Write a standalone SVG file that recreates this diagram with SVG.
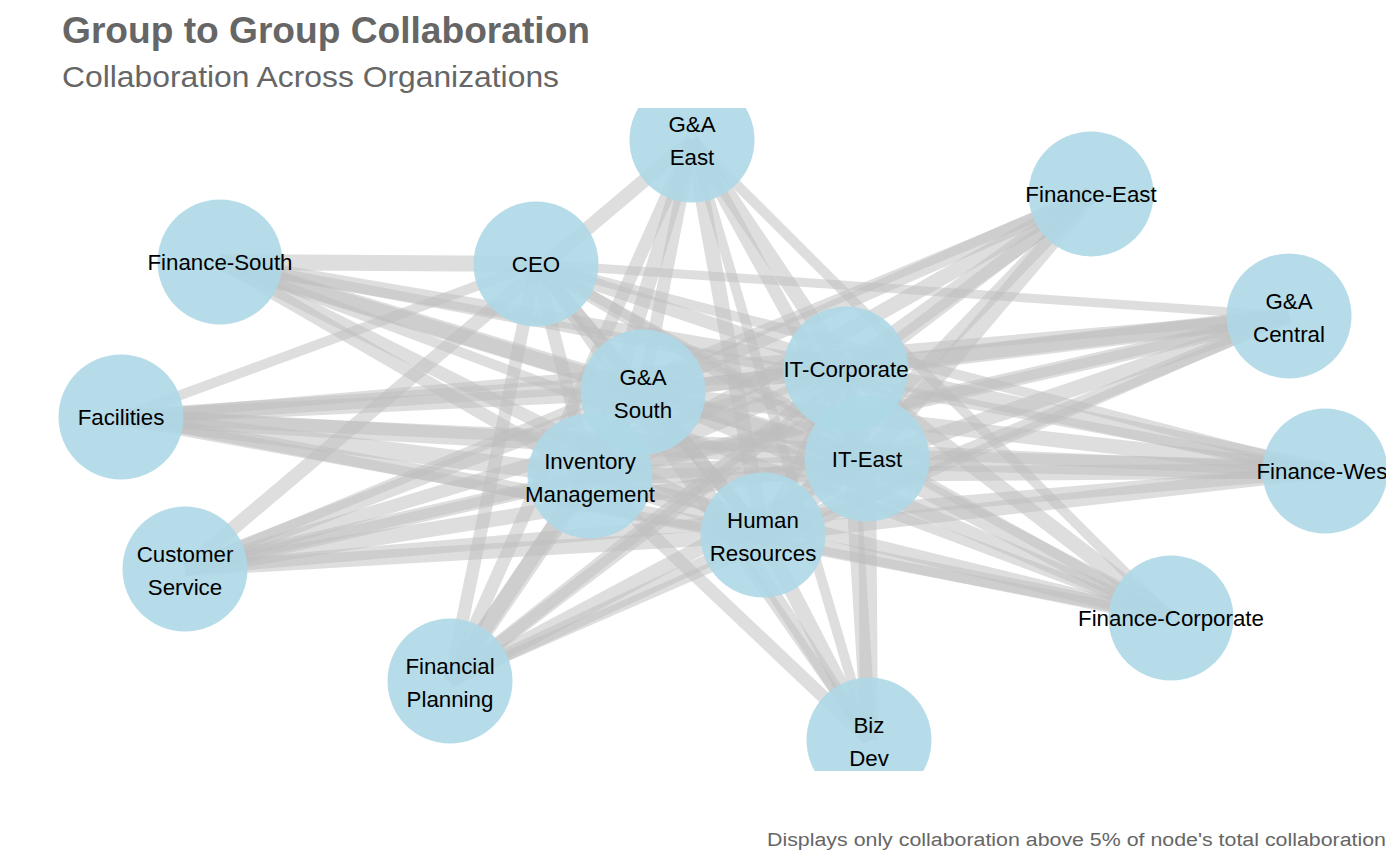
<svg xmlns="http://www.w3.org/2000/svg" width="1400" height="866" viewBox="0 0 1400 866">
<style>
.edges line{stroke:#bebebe;stroke-opacity:0.5;stroke-linecap:butt}
.node circle{fill:#add8e6;fill-opacity:0.9}
.node text{font-family:"Liberation Sans",Arial,sans-serif;font-size:22.3px;fill:#000;text-anchor:middle}
.title{font-family:"Liberation Sans",Arial,sans-serif;font-weight:bold;font-size:37px;fill:#666666}
.subtitle{font-family:"Liberation Sans",Arial,sans-serif;font-size:30px;fill:#666666}
.caption{font-family:"Liberation Sans",Arial,sans-serif;font-size:18px;fill:#666666}
</style>
<defs><clipPath id="panel"><rect x="0" y="108" width="1386" height="663"/></clipPath></defs>
<rect width="1400" height="866" fill="#ffffff"/>
<text class="title" x="62" y="43" textLength="528" lengthAdjust="spacingAndGlyphs">Group to Group Collaboration</text>
<text class="subtitle" x="62" y="87" textLength="497" lengthAdjust="spacingAndGlyphs">Collaboration Across Organizations</text>
<text class="caption" x="767" y="846" textLength="619" lengthAdjust="spacingAndGlyphs">Displays only collaboration above 5% of node's total collaboration</text>
<g clip-path="url(#panel)">
<g id="connectors" class="edges">
<line x1="220" y1="262" x2="536" y2="264" stroke-width="16"/>
<line x1="220" y1="262" x2="643" y2="392" stroke-width="15"/>
<line x1="220" y1="262" x2="590" y2="476" stroke-width="13"/>
<line x1="220" y1="262" x2="846" y2="369" stroke-width="15"/>
<line x1="220" y1="262" x2="867" y2="459" stroke-width="18"/>
<line x1="220" y1="262" x2="763" y2="535" stroke-width="13"/>
<line x1="220" y1="262" x2="1325" y2="471" stroke-width="10"/>
<line x1="220" y1="262" x2="1171" y2="618" stroke-width="10"/>
<line x1="692" y1="140" x2="185" y2="569" stroke-width="14"/>
<line x1="692" y1="140" x2="643" y2="392" stroke-width="13"/>
<line x1="692" y1="140" x2="590" y2="476" stroke-width="15"/>
<line x1="692" y1="140" x2="450" y2="681" stroke-width="13"/>
<line x1="692" y1="140" x2="763" y2="535" stroke-width="15"/>
<line x1="692" y1="140" x2="869" y2="740" stroke-width="10"/>
<line x1="692" y1="140" x2="867" y2="459" stroke-width="13"/>
<line x1="692" y1="140" x2="846" y2="369" stroke-width="15"/>
<line x1="692" y1="140" x2="1171" y2="618" stroke-width="10"/>
<line x1="536" y1="264" x2="1289" y2="316" stroke-width="9"/>
<line x1="536" y1="264" x2="121" y2="417" stroke-width="10"/>
<line x1="536" y1="264" x2="450" y2="681" stroke-width="13"/>
<line x1="536" y1="264" x2="643" y2="392" stroke-width="13"/>
<line x1="536" y1="264" x2="590" y2="476" stroke-width="13"/>
<line x1="536" y1="264" x2="846" y2="369" stroke-width="13"/>
<line x1="536" y1="264" x2="867" y2="459" stroke-width="13"/>
<line x1="536" y1="264" x2="763" y2="535" stroke-width="13"/>
<line x1="536" y1="264" x2="1325" y2="471" stroke-width="10"/>
<line x1="536" y1="264" x2="1171" y2="618" stroke-width="10"/>
<line x1="536" y1="264" x2="869" y2="740" stroke-width="10"/>
<line x1="1091" y1="194" x2="643" y2="392" stroke-width="15"/>
<line x1="1091" y1="194" x2="590" y2="476" stroke-width="15"/>
<line x1="1091" y1="194" x2="846" y2="369" stroke-width="18"/>
<line x1="1091" y1="194" x2="867" y2="459" stroke-width="18"/>
<line x1="1091" y1="194" x2="763" y2="535" stroke-width="13"/>
<line x1="1091" y1="194" x2="450" y2="681" stroke-width="13"/>
<line x1="1091" y1="194" x2="185" y2="569" stroke-width="10"/>
<line x1="1289" y1="316" x2="846" y2="369" stroke-width="18"/>
<line x1="1289" y1="316" x2="867" y2="459" stroke-width="15"/>
<line x1="1289" y1="316" x2="643" y2="392" stroke-width="15"/>
<line x1="1289" y1="316" x2="590" y2="476" stroke-width="15"/>
<line x1="1289" y1="316" x2="763" y2="535" stroke-width="13"/>
<line x1="1289" y1="316" x2="121" y2="417" stroke-width="10"/>
<line x1="1289" y1="316" x2="450" y2="681" stroke-width="10"/>
<line x1="1289" y1="316" x2="185" y2="569" stroke-width="10"/>
<line x1="121" y1="417" x2="643" y2="392" stroke-width="15"/>
<line x1="121" y1="417" x2="590" y2="476" stroke-width="18"/>
<line x1="121" y1="417" x2="846" y2="369" stroke-width="15"/>
<line x1="121" y1="417" x2="867" y2="459" stroke-width="18"/>
<line x1="121" y1="417" x2="763" y2="535" stroke-width="15"/>
<line x1="121" y1="417" x2="1325" y2="471" stroke-width="13"/>
<line x1="121" y1="417" x2="1171" y2="618" stroke-width="10"/>
<line x1="1325" y1="471" x2="846" y2="369" stroke-width="18"/>
<line x1="1325" y1="471" x2="867" y2="459" stroke-width="20"/>
<line x1="1325" y1="471" x2="643" y2="392" stroke-width="15"/>
<line x1="1325" y1="471" x2="590" y2="476" stroke-width="15"/>
<line x1="1325" y1="471" x2="763" y2="535" stroke-width="15"/>
<line x1="1325" y1="471" x2="185" y2="569" stroke-width="13"/>
<line x1="185" y1="569" x2="643" y2="392" stroke-width="15"/>
<line x1="185" y1="569" x2="590" y2="476" stroke-width="15"/>
<line x1="185" y1="569" x2="846" y2="369" stroke-width="13"/>
<line x1="185" y1="569" x2="867" y2="459" stroke-width="15"/>
<line x1="185" y1="569" x2="763" y2="535" stroke-width="15"/>
<line x1="1171" y1="618" x2="867" y2="459" stroke-width="18"/>
<line x1="1171" y1="618" x2="763" y2="535" stroke-width="15"/>
<line x1="1171" y1="618" x2="846" y2="369" stroke-width="15"/>
<line x1="1171" y1="618" x2="643" y2="392" stroke-width="13"/>
<line x1="1171" y1="618" x2="590" y2="476" stroke-width="13"/>
<line x1="450" y1="681" x2="643" y2="392" stroke-width="15"/>
<line x1="450" y1="681" x2="590" y2="476" stroke-width="18"/>
<line x1="450" y1="681" x2="846" y2="369" stroke-width="13"/>
<line x1="450" y1="681" x2="867" y2="459" stroke-width="15"/>
<line x1="450" y1="681" x2="763" y2="535" stroke-width="13"/>
<line x1="869" y1="740" x2="867" y2="459" stroke-width="18"/>
<line x1="869" y1="740" x2="846" y2="369" stroke-width="15"/>
<line x1="869" y1="740" x2="763" y2="535" stroke-width="15"/>
<line x1="869" y1="740" x2="590" y2="476" stroke-width="13"/>
<line x1="869" y1="740" x2="643" y2="392" stroke-width="13"/>
<line x1="643" y1="392" x2="846" y2="369" stroke-width="15"/>
<line x1="643" y1="392" x2="867" y2="459" stroke-width="15"/>
<line x1="643" y1="392" x2="763" y2="535" stroke-width="13"/>
<line x1="643" y1="392" x2="590" y2="476" stroke-width="15"/>
<line x1="590" y1="476" x2="846" y2="369" stroke-width="15"/>
<line x1="590" y1="476" x2="867" y2="459" stroke-width="15"/>
<line x1="590" y1="476" x2="763" y2="535" stroke-width="13"/>
<line x1="846" y1="369" x2="867" y2="459" stroke-width="15"/>
<line x1="846" y1="369" x2="763" y2="535" stroke-width="13"/>
<line x1="867" y1="459" x2="763" y2="535" stroke-width="15"/>
</g>
<g id="nodes">
<g id="node-ga-east" class="node"><circle cx="692" cy="140" r="62.5"/><text x="692" y="132">G&amp;A</text><text x="692" y="165">East</text></g>
<g id="node-finance-east" class="node"><circle cx="1091" cy="194" r="62.5"/><text x="1091" y="202">Finance-East</text></g>
<g id="node-ceo" class="node"><circle cx="536" cy="264" r="62.5"/><text x="536" y="272">CEO</text></g>
<g id="node-finance-south" class="node"><circle cx="220" cy="262" r="62.5"/><text x="220" y="270">Finance-South</text></g>
<g id="node-ga-central" class="node"><circle cx="1289" cy="316" r="62.5"/><text x="1289" y="308.5">G&amp;A</text><text x="1289" y="341.5">Central</text></g>
<g id="node-it-corporate" class="node"><circle cx="846" cy="369" r="62.5"/><text x="846" y="377">IT-Corporate</text></g>
<g id="node-ga-south" class="node"><circle cx="643" cy="392" r="62.5"/><text x="643" y="385">G&amp;A</text><text x="643" y="418">South</text></g>
<g id="node-facilities" class="node"><circle cx="121" cy="417" r="62.5"/><text x="121" y="425">Facilities</text></g>
<g id="node-it-east" class="node"><circle cx="867" cy="459" r="62.5"/><text x="867" y="467">IT-East</text></g>
<g id="node-inventory-management" class="node"><circle cx="590" cy="476" r="62.5"/><text x="590" y="468.5">Inventory</text><text x="590" y="501.5">Management</text></g>
<g id="node-finance-west" class="node"><circle cx="1325" cy="471" r="62.5"/><text x="1325" y="479">Finance-West</text></g>
<g id="node-human-resources" class="node"><circle cx="763" cy="535" r="62.5"/><text x="763" y="527.5">Human</text><text x="763" y="560.5">Resources</text></g>
<g id="node-customer-service" class="node"><circle cx="185" cy="569" r="62.5"/><text x="185" y="561.5">Customer</text><text x="185" y="594.5">Service</text></g>
<g id="node-finance-corporate" class="node"><circle cx="1171" cy="618" r="62.5"/><text x="1171" y="626">Finance-Corporate</text></g>
<g id="node-financial-planning" class="node"><circle cx="450" cy="681" r="62.5"/><text x="450" y="673.5">Financial</text><text x="450" y="706.5">Planning</text></g>
<g id="node-biz-dev" class="node"><circle cx="869" cy="740" r="62.5"/><text x="869" y="732.5">Biz</text><text x="869" y="765.5">Dev</text></g>
</g>
</g>
</svg>
